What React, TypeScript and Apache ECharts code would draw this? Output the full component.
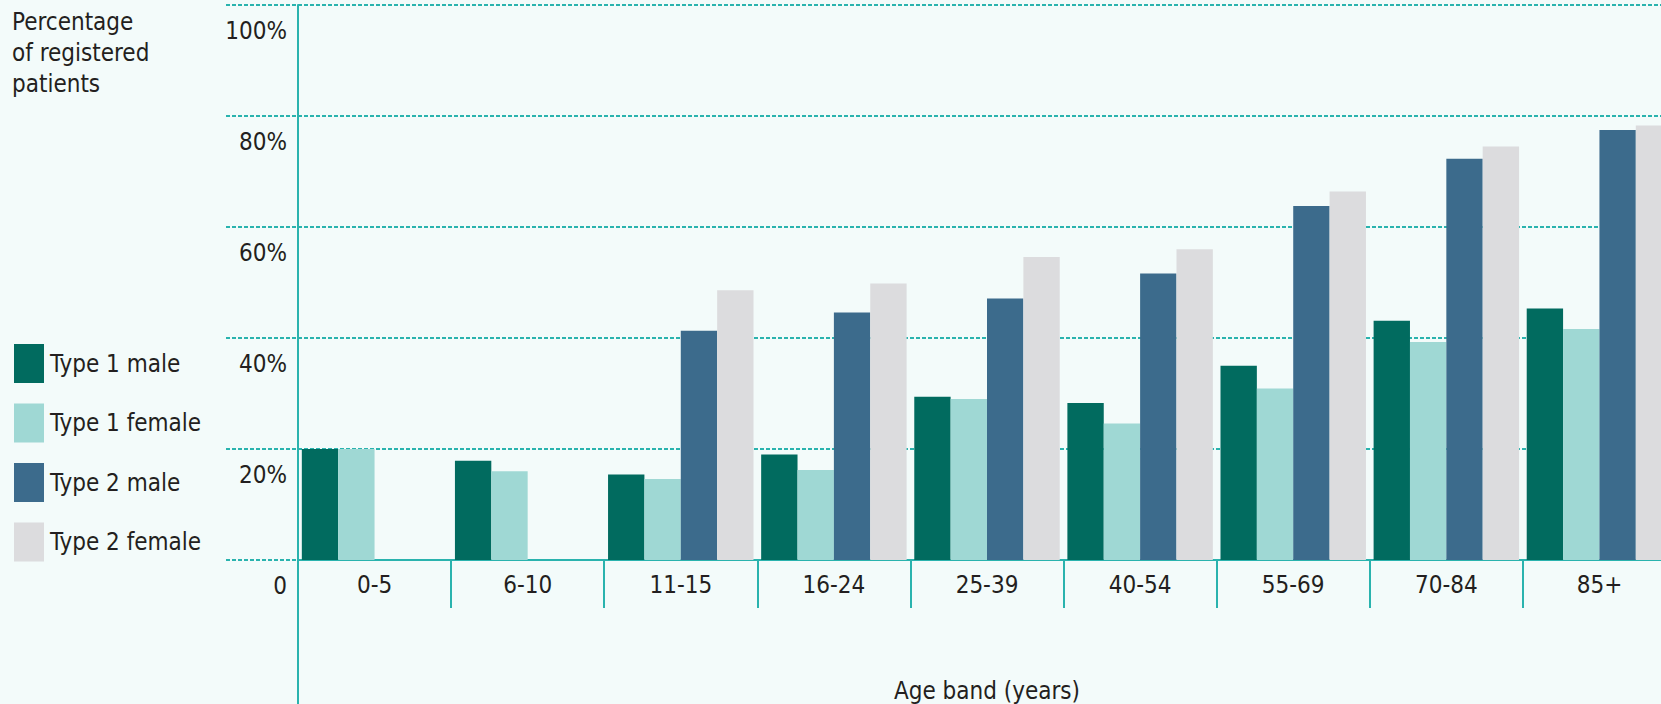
import React, { useEffect, useRef } from "react";
import * as echarts from "echarts";

const categories = ["0-5", "6-10", "11-15", "16-24", "25-39", "40-54", "55-69", "70-84", "85+"];
const type1Male = [20, 17.9, 15.4, 19.0, 29.4, 28.3, 35.0, 43.1, 45.3];
const type1Female = [20, 16.0, 14.6, 16.2, 29.0, 24.6, 30.9, 39.3, 41.6];
const type2Male = [0, 0, 41.3, 44.6, 47.1, 51.6, 63.8, 72.3, 77.5];
const type2Female = [0, 0, 48.6, 49.8, 54.6, 56.0, 66.4, 74.5, 78.3];
const yTicks = [0, 20, 40, 60, 80, 100];

const FONT = "'Liberation Sans Narrow', 'DejaVu Sans Condensed', sans-serif";
const TEAL = "#2ab3ae";
const TEXT = "#231f20";
const FS = 24;

export default function App() {
  const ref = useRef<HTMLDivElement>(null);
  useEffect(() => {
    if (!ref.current) return;
    const chart = echarts.init(ref.current, undefined, { renderer: "svg" });
    const mkSeries = (name: string, data: number[], color: string) => ({
      name,
      type: "bar",
      data,
      barGap: "0%",
      barCategoryGap: "5%",
      itemStyle: { color },
    });
    chart.setOption({
      animation: false,
      backgroundColor: "#f3fbfa",
      textStyle: { fontFamily: FONT },
      grid: {
        left: 298,
        right: -15,
        top: 5,
        bottom: 144,
        containLabel: false,
        outerBoundsMode: "none",
      },
      legend: {
        orient: "vertical",
        left: 9,
        top: 339,
        itemWidth: 30,
        itemHeight: 39,
        itemGap: 20.5,
        icon: "rect",
        textStyle: { fontSize: FS, color: TEXT, fontFamily: FONT, padding: [0, 0, 0, 1] },
        data: ["Type 1 male", "Type 1 female", "Type 2 male", "Type 2 female"],
      },
      xAxis: {
        type: "category",
        data: categories,
        name: "Age band (years)",
        nameLocation: "middle",
        nameGap: 119,
        nameTextStyle: { fontSize: FS, color: TEXT, fontFamily: FONT },
        axisLine: { show: true, lineStyle: { color: TEAL, width: 2 } },
        axisTick: { show: true, interval: 0, length: 48, lineStyle: { color: TEAL, width: 2 } },
        axisLabel: { fontSize: FS, color: TEXT, margin: 13, fontFamily: FONT, interval: 0 },
      },
      yAxis: {
        type: "value",
        min: 0,
        max: 100,
        interval: 20,
        axisLine: { show: true, lineStyle: { color: TEAL, width: 2 } },
        axisTick: { show: false },
        splitLine: { show: true, lineStyle: { color: TEAL, width: 2, type: [4, 2] } },
        axisLabel: {
          fontSize: FS,
          color: TEXT,
          fontFamily: FONT,
          margin: 11,
          verticalAlign: "top",
          padding: [14, 0, 0, 0],
          formatter: (v: number) => (v === 0 ? "0" : v + "%"),
        },
      },
      series: [
        mkSeries("Type 1 male", type1Male, "#016b5f"),
        mkSeries("Type 1 female", type1Female, "#9fd8d4"),
        mkSeries("Type 2 male", type2Male, "#3c6b8c"),
        mkSeries("Type 2 female", type2Female, "#dcdcde"),
      ],
    });

    const x0 = 298;
    const y0 = chart.convertToPixel({ yAxisIndex: 0 }, 0) as number;
    const graphics: any[] = yTicks.map((v) => {
      const y = chart.convertToPixel({ yAxisIndex: 0 }, v) as number;
      return {
        type: "line",
        shape: { x1: 226, y1: y, x2: x0, y2: y },
        style: { stroke: TEAL, lineWidth: 2, lineDash: [4, 2] },
        z: 1,
      };
    });
    graphics.push({
      type: "line",
      shape: { x1: x0, y1: y0, x2: x0, y2: 704 },
      style: { stroke: TEAL, lineWidth: 2 },
      z: 10,
    });
    graphics.push({
      type: "text",
      left: 12,
      top: 6,
      style: {
        text: "Percentage\nof registered\npatients",
        fontSize: FS,
        lineHeight: 31,
        fill: TEXT,
        fontFamily: FONT,
      },
    });
    chart.setOption({ graphic: graphics });
    return () => chart.dispose();
  }, []);
  return (
    <div
      ref={ref}
      style={{ position: "fixed", left: 0, top: 0, width: 1661, height: 704 }}
    />
  );
}
